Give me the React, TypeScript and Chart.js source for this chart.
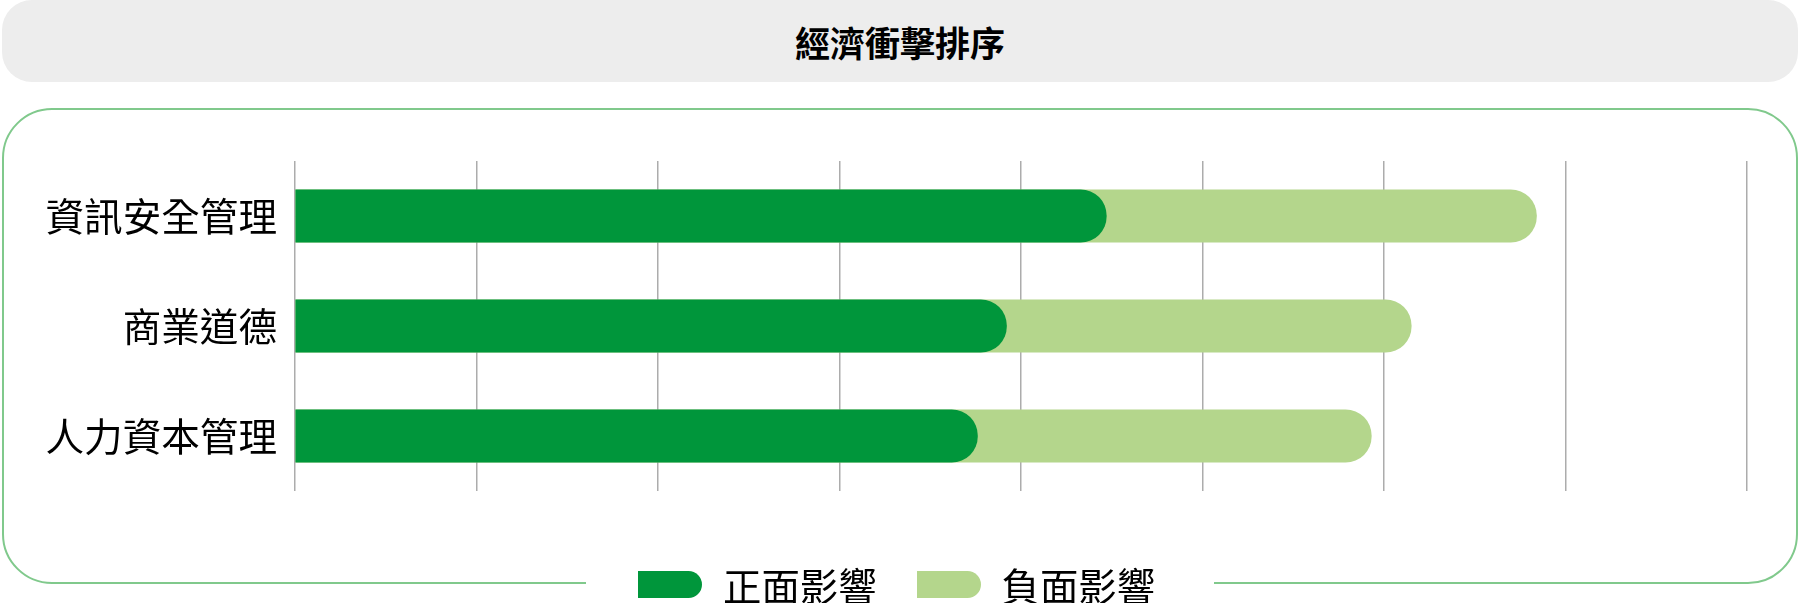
import React, { useEffect, useRef } from "react";
import { Chart, registerables } from "chart.js";

Chart.register(...registerables);

const title = "經濟衝擊排序";
const categories = ["資訊安全管理", "商業道德", "人力資本管理"];
const seriesNames = ["正面影響", "負面影響"];
const seriesColors = ["#00963b", "#b4d68c"];
// bar lengths (axis 0–8, one unit per gridline)
const positiveImpact = [4.47, 3.92, 3.76];
const negativeImpactEnd = [6.84, 6.15, 5.93];
const axisMin = 0;
const axisMax = 8;
const axisStep = 1;

const FONT = '"Noto Sans CJK TC", "Noto Sans CJK SC", sans-serif';

export default function App() {
  const canvasRef = useRef<HTMLCanvasElement | null>(null);

  useEffect(() => {
    const canvas = canvasRef.current;
    if (!canvas) return;
    const chart = new Chart(canvas, {
      type: "bar",
      data: {
        labels: categories,
        datasets: [
          {
            label: seriesNames[0],
            data: positiveImpact,
            backgroundColor: seriesColors[0],
            borderRadius: 26,
            borderSkipped: "start",
            barThickness: 52.5,
            stack: "s",
          },
          {
            label: seriesNames[1],
            data: negativeImpactEnd,
            backgroundColor: seriesColors[1],
            borderRadius: 26,
            borderSkipped: "start",
            barThickness: 52.5,
            stack: "s",
          },
        ],
      },
      options: {
        indexAxis: "y",
        animation: false,
        responsive: false,
        maintainAspectRatio: false,
        layout: { padding: { left: 0, top: 161, right: 53, bottom: 112 } },
        plugins: {
          legend: { display: false },
          title: { display: false },
          tooltip: { enabled: false },
        },
        scales: {
          x: {
            type: "linear",
            stacked: false,
            min: axisMin,
            max: axisMax,
            ticks: { display: false, stepSize: axisStep },
            grid: { color: "#acacac", lineWidth: 1.5, drawTicks: false },
            border: { display: false },
            afterFit: (scale: any) => {
              scale.height = 0;
            },
          },
          y: {
            type: "category",
            stacked: true,
            grid: { display: false, drawTicks: false },
            border: { display: false },
            ticks: {
              padding: 18,
              color: "#000",
              font: { family: FONT, size: 38.6 },
            },
            afterFit: (scale: any) => {
              scale.width = 295;
            },
          },
        },
      },
    });
    return () => chart.destroy();
  }, []);

  return (
    <div
      style={{
        position: "absolute",
        left: 0,
        top: 0,
        width: 1800,
        height: 603,
        overflow: "hidden",
        background: "#fff",
        fontFamily: FONT,
      }}
    >
      <div
        style={{
          position: "absolute",
          left: 2,
          top: 0,
          width: 1796,
          height: 82,
          borderRadius: 30,
          background: "#ededed",
          display: "flex",
          alignItems: "center",
          justifyContent: "center",
          fontWeight: 700,
          fontSize: 35,
          color: "#000",
        }}
      >
        {title}
      </div>
      <div
        style={{
          position: "absolute",
          left: 2,
          top: 108,
          width: 1796,
          height: 476,
          boxSizing: "border-box",
          border: "2px solid #80c98c",
          borderRadius: 50,
        }}
      />
      <canvas
        ref={canvasRef}
        width={1800}
        height={603}
        style={{ position: "absolute", left: 0, top: 0, width: 1800, height: 603 }}
      />
      <div
        style={{
          position: "absolute",
          left: 586,
          top: 559,
          width: 628,
          height: 50,
          background: "#fff",
          display: "flex",
          alignItems: "center",
          paddingLeft: 52,
          boxSizing: "border-box",
        }}
      >
        {seriesNames.map((name, i) => (
          <div
            key={name}
            style={{ display: "flex", alignItems: "center", marginRight: i === 0 ? 40 : 0 }}
          >
            <div
              style={{
                width: 64,
                height: 27,
                background: seriesColors[i],
                borderRadius: "0 13.5px 13.5px 0",
                marginRight: 21,
              }}
            />
            <span style={{ fontSize: 38.4, color: "#000", lineHeight: "50px", whiteSpace: "nowrap" }}>
              {name}
            </span>
          </div>
        ))}
      </div>
    </div>
  );
}
